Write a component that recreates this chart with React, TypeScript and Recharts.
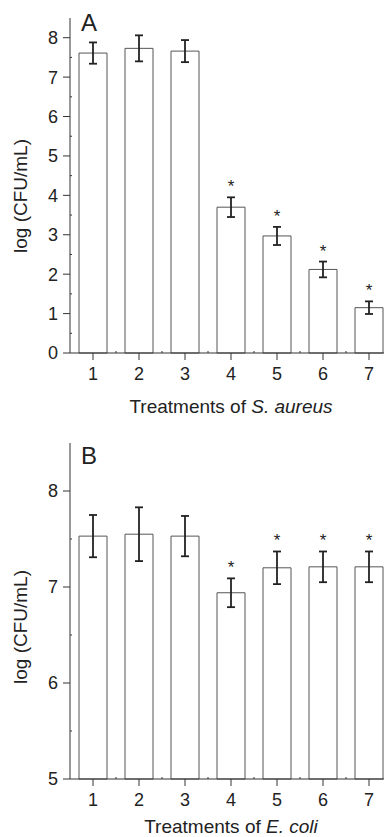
import React from 'react';
import { BarChart, Bar, XAxis, YAxis, ErrorBar, LabelList, Customized } from 'recharts';

const treatments = ['1', '2', '3', '4', '5', '6', '7'];

const aureusMeans = [7.61, 7.73, 7.66, 3.7, 2.97, 2.12, 1.15];
const aureusErrors = [0.27, 0.33, 0.28, 0.25, 0.23, 0.2, 0.16];
const aureusStars = [false, false, false, true, true, true, true];

const coliMeans = [7.53, 7.55, 7.53, 6.94, 7.2, 7.21, 7.21];
const coliErrors = [0.22, 0.28, 0.21, 0.15, 0.17, 0.16, 0.16];
const coliStars = [false, false, false, true, true, true, true];

const aureusMajorTicks = [0, 1, 2, 3, 4, 5, 6, 7, 8];
const aureusMinorTicks = [0.5, 1.5, 2.5, 3.5, 4.5, 5.5, 6.5, 7.5];
const coliMajorTicks = [5, 6, 7, 8];
const coliMinorTicks = [5.5, 6.5, 7.5];

const FONT = '"Liberation Sans", Arial, Helvetica, sans-serif';
const TEXT = '#222';
const AXIS = '#333';
const BAND = 46;

const aureusData = treatments.map((t, i) => ({ t, mean: aureusMeans[i], err: aureusErrors[i] }));
const coliData = treatments.map((t, i) => ({ t, mean: coliMeans[i], err: coliErrors[i] }));

function YTick(props: any) {
  const { x, y, payload } = props;
  const v = payload.value;
  if (!Number.isInteger(v)) {
    return <line x1={x} x2={x + 2} y1={y} y2={y} stroke={AXIS} strokeWidth={1} />;
  }
  return (
    <g>
      <line x1={x - 7} x2={x} y1={y} y2={y} stroke={AXIS} strokeWidth={1} />
      <text x={x - 12} y={y} dy="0.36em" textAnchor="end" fontSize={18} fontFamily={FONT} fill={TEXT}>
        {v}
      </text>
    </g>
  );
}

function XTick(props: any) {
  const { x, y, payload, index } = props;
  return (
    <g>
      <line x1={x} x2={x} y1={y} y2={y + 7} stroke={AXIS} strokeWidth={1} />
      {index < 6 && (
        <line x1={x + BAND / 2} x2={x + BAND / 2} y1={y} y2={y - 2} stroke={AXIS} strokeWidth={1} />
      )}
      <text x={x} y={y + 27} textAnchor="middle" fontSize={18} fontFamily={FONT} fill={TEXT}>
        {payload.value}
      </text>
    </g>
  );
}

const starLabel = (means: number[], errs: number[], stars: boolean[], base: number) => (props: any) => {
  const vb = props.viewBox || {};
  const x = props.x ?? vb.x;
  const y = props.y ?? vb.y;
  const width = props.width ?? vb.width;
  const height = props.height ?? vb.height;
  const i = props.index;
  if (!stars[i]) return null;
  const k = height / (means[i] - base);
  const top = y - errs[i] * k;
  return (
    <text x={x + width / 2} y={top - 5} textAnchor="middle" fontSize={17} fontFamily={FONT} fill={TEXT}>
      *
    </text>
  );
};

function XTitle({ viewBox, italic, dy }: any) {
  const { x, y, width } = viewBox;
  return (
    <text x={x + width / 2} y={y + dy} textAnchor="middle" fontSize={19} fontFamily={FONT} fill={TEXT}>
      Treatments of <tspan fontStyle="italic">{italic}</tspan>
    </text>
  );
}

function YTitle({ cy }: any) {
  return (
    <text
      x={27}
      y={cy}
      transform={`rotate(-90, 27, ${cy})`}
      textAnchor="middle"
      fontSize={19}
      fontFamily={FONT}
      fill={TEXT}
    >
      log (CFU/mL)
    </text>
  );
}

function Panel({ letter, y }: any) {
  return (
    <text x={81} y={y} fontSize={24} fontFamily={FONT} fill={TEXT}>
      {letter}
    </text>
  );
}

export default function App() {
  return (
    <div style={{ position: 'absolute', left: 0, top: 0, width: 384, height: 837, overflow: 'hidden', background: '#fff' }}>
      <BarChart width={392} height={423} data={aureusData} margin={{ top: 18, right: 0, bottom: 0, left: 0 }}>
        <XAxis
          dataKey="t"
          height={70}
          stroke={AXIS}
          tickLine={false}
          tickSize={0}
          tickMargin={0}
          tick={<XTick />}
          interval={0}
          label={<XTitle italic="S. aureus" dy={60} />}
        />
        <YAxis
          width={70}
          domain={[0, 8.5]}
          ticks={[...aureusMajorTicks, ...aureusMinorTicks].sort((a, b) => a - b)}
          interval={0}
          stroke={AXIS}
          tickLine={false}
          tickSize={0}
          tickMargin={0}
          tick={<YTick />}
          label={<YTitle cy={196} />}
        />
        <Bar dataKey="mean" barSize={28} fill="#fff" stroke="#555" strokeWidth={1} isAnimationActive={false}>
          <ErrorBar dataKey="err" width={4} stroke="#222" strokeWidth={1.8} isAnimationActive={false} />
          <LabelList dataKey="mean" content={starLabel(aureusMeans, aureusErrors, aureusStars, 0)} />
        </Bar>
        <Customized component={() => <Panel letter="A" y={31} />} />
      </BarChart>
      <BarChart width={392} height={414} data={coliData} margin={{ top: 20, right: 0, bottom: 0, left: 0 }}>
        <XAxis
          dataKey="t"
          height={58}
          stroke={AXIS}
          tickLine={false}
          tickSize={0}
          tickMargin={0}
          tick={<XTick />}
          interval={0}
          label={<XTitle italic="E. coli" dy={54} />}
        />
        <YAxis
          width={70}
          domain={[5, 8.5]}
          ticks={[...coliMajorTicks, ...coliMinorTicks].sort((a, b) => a - b)}
          interval={0}
          stroke={AXIS}
          tickLine={false}
          tickSize={0}
          tickMargin={0}
          tick={<YTick />}
          label={<YTitle cy={204} />}
        />
        <Bar dataKey="mean" barSize={28} fill="#fff" stroke="#555" strokeWidth={1} isAnimationActive={false}>
          <ErrorBar dataKey="err" width={4} stroke="#222" strokeWidth={1.8} isAnimationActive={false} />
          <LabelList dataKey="mean" content={starLabel(coliMeans, coliErrors, coliStars, 5)} />
        </Bar>
        <Customized component={() => <Panel letter="B" y={41} />} />
      </BarChart>
    </div>
  );
}
